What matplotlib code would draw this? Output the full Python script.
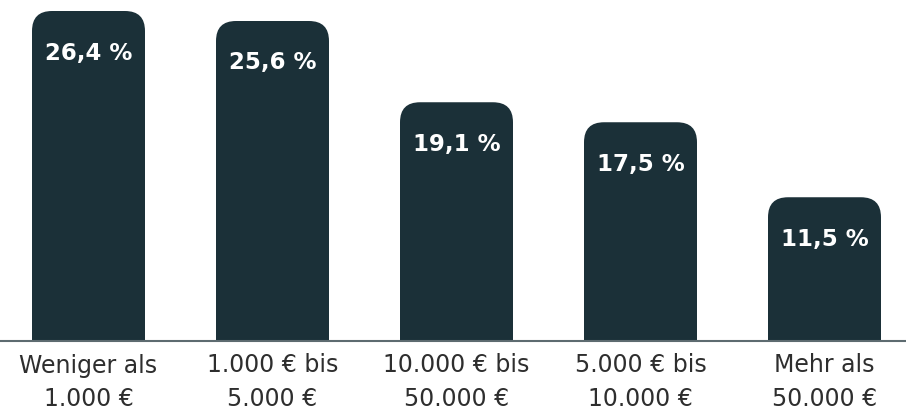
import matplotlib
matplotlib.use('Agg')
import matplotlib.pyplot as plt
from matplotlib.patches import FancyBboxPatch

# data
categories = ['Weniger als\n1.000 €', '1.000 € bis\n5.000 €', '10.000 € bis\n50.000 €',
              '5.000 € bis\n10.000 €', 'Mehr als\n50.000 €']
values = [26.4, 25.6, 19.1, 17.5, 11.5]
labels = ['26,4 %', '25,6 %', '19,1 %', '17,5 %', '11,5 %']

bar_color = '#1b3038'
W, H = 906, 412

fig = plt.figure(figsize=(W / 100, H / 100), dpi=100)
ax = fig.add_axes([0, 71 / H, 1, 341 / H])
ax.set_xlim(-88.5 / 184, (W - 88.5) / 184)
ax.set_ylim(0, 341 / 12.5)

# px per data unit -> aspect for rounded corners
px_x = W / (ax.get_xlim()[1] - ax.get_xlim()[0])
px_y = 341 / (ax.get_ylim()[1] - ax.get_ylim()[0])
width = 113 / 184
r = 20 / px_x
aspect = (20 / px_y) / r

for i, v in enumerate(values):
    bar = FancyBboxPatch((i - width / 2, -3), width, v + 3,
                         boxstyle=f'round,pad=0,rounding_size={r}',
                         mutation_aspect=aspect, fc=bar_color, ec='none')
    ax.add_patch(bar)
    ax.annotate(labels[i], (i, v), xytext=(0, -42), textcoords='offset pixels',
                ha='center', va='center', color='white', fontsize=16.5,
                fontweight='heavy', family='DejaVu Sans')

ax.axhline(0, color='#5d6b70', lw=1.5, clip_on=False)

ax.set_xticks(range(len(categories)))
ax.set_xticklabels(categories, fontsize=17, color='#2e2e2e', linespacing=1.5,
                   family='DejaVu Sans')
ax.tick_params(axis='x', length=0, pad=9)
ax.set_yticks([])
for s in ax.spines.values():
    s.set_visible(False)

fig.savefig('out.png', dpi=100)
